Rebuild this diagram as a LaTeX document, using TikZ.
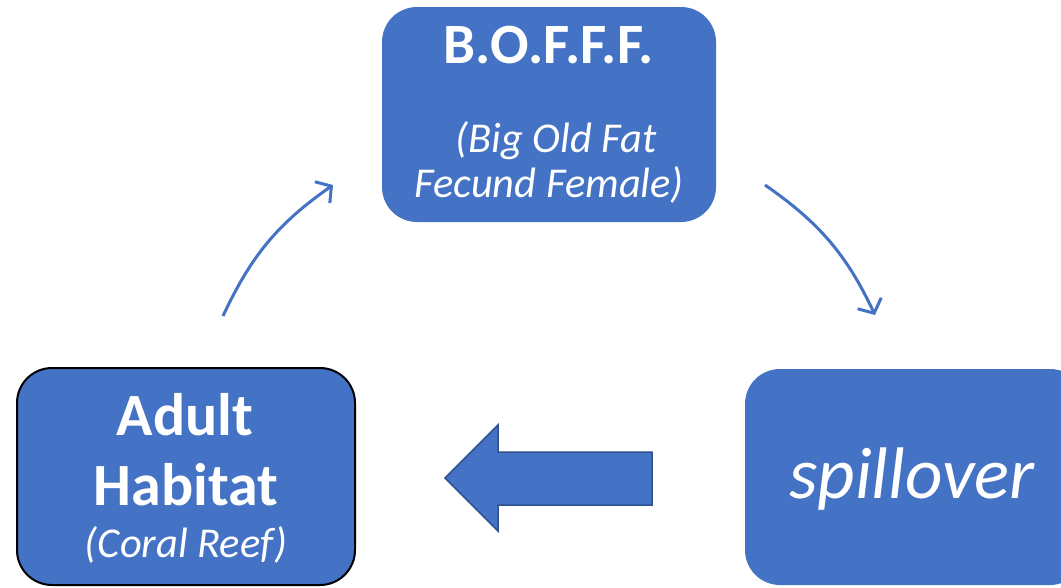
\documentclass[tikz,border=0pt]{standalone}
\usepackage{fontspec}
\setmainfont{Carlito}
\usetikzlibrary{arrows.meta}
\definecolor{boxblue}{HTML}{4472C4}
\definecolor{edgeblue}{HTML}{2F528F}
\tikzset{
  box/.style={fill=boxblue, rounded corners=35pt, inner sep=0pt, draw=none},
  lbl/.style={text=white, inner sep=0pt, anchor=base},
  cycarrow/.style={draw=boxblue, line width=3pt, -{Straight Barb[length=11pt,width=26pt,line width=3pt]}, bend left=15},
}
\begin{document}
\begin{tikzpicture}[x=1pt,y=-1pt]
\useasboundingbox (0,0) rectangle (1061,587);
\clip (0,0) rectangle (1061,587);
\fill[white] (0,0) rectangle (1061,587);
% boxes
\node[box, minimum width=334pt, minimum height=215pt] (boff) at (549,114.5) {};
\node[box, draw=black, line width=2pt, minimum width=338pt, minimum height=217pt] (adult) at (186,476.5) {};
\node[box, minimum width=340pt, minimum height=216pt] (spill) at (915,477) {};
% texts
\node[lbl, font=\fontsize{57}{62}\selectfont\bfseries] (t1) at (549,63) {B.O.F.F.F.};
\node[lbl, font=\fontsize{42.5}{48}\selectfont\itshape] (t2) at (556,152) {(Big Old Fat};
\node[lbl, font=\fontsize{42.5}{48}\selectfont\itshape] (t3) at (549,197) {Fecund Female)};
\node[lbl, font=\fontsize{60}{66}\selectfont\bfseries] (t4) at (185,435) {Adult};
\node[lbl, font=\fontsize{60}{66}\selectfont\bfseries] (t5) at (186,505) {Habitat};
\node[lbl, font=\fontsize{42.5}{48}\selectfont\itshape] (t6) at (186,557) {(Coral Reef)};
\node[lbl, font=\fontsize{73}{80}\selectfont\itshape] (t7) at (912,498) {spillover};
% cycle arrows
\coordinate (a1s) at (223,316);
\coordinate (a1e) at (333,185);
\coordinate (a2s) at (765,185);
\coordinate (a2e) at (875,315);
\draw[cycarrow] (a1s) to (a1e);
\draw[cycarrow] (a2s) to (a2e);
% block arrow
\draw[fill=boxblue, draw=edgeblue, line width=1.5pt, line join=miter]
  (652,452) -- (498,452) -- (498,425) -- (445,478) -- (498,531) -- (498,505) -- (652,505) -- cycle;
\end{tikzpicture}
\end{document}
